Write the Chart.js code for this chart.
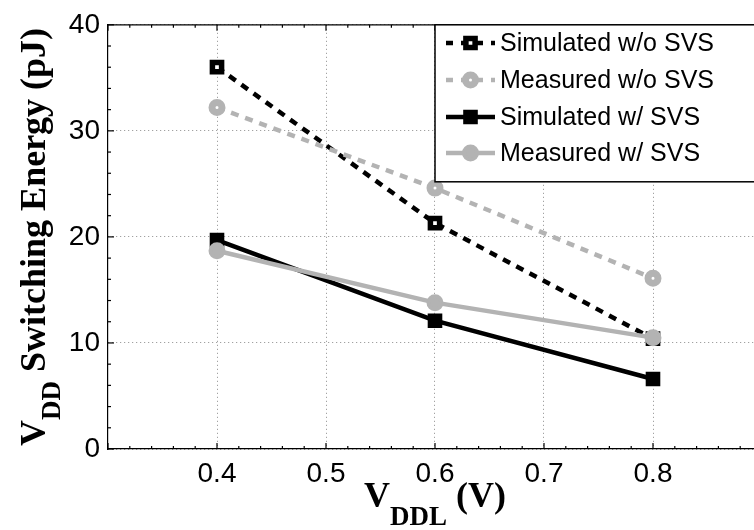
<!DOCTYPE html>
<html><head><meta charset="utf-8">
<script src="https://cdn.jsdelivr.net/npm/chart.js@4.4.1/dist/chart.umd.min.js"></script>
<style>
html,body{margin:0;padding:0;overflow:hidden;background:#fff;width:754px;height:530px}
#wrap{position:absolute;left:0;top:0;width:800px;height:530px}
</style>
</head><body><div id="wrap"><canvas id="c" width="800" height="530"></canvas></div>
<script>
// ---- data ----
const vddl = [0.4, 0.6, 0.8];
const simWo = [36.0, 21.3, 10.4];
const measWo = [32.2, 24.6, 16.1];
const simW = [19.7, 12.1, 6.6];
const measW = [18.7, 13.8, 10.5];
const seriesNames = ['Simulated w/o SVS', 'Measured w/o SVS', 'Simulated w/ SVS', 'Measured w/ SVS'];
const xTicks = [0.4, 0.5, 0.6, 0.7, 0.8];
const yTicks = [0, 10, 20, 30, 40];

const BLACK = '#000000', GRAY = '#b3b3b3';
const pts = ys => vddl.map((x, i) => ({x, y: ys[i]}));

const styles = [
  {color: BLACK, dash: [8, 7], shape: 'rect', r: 6.5, bw: 5.5, fill: '#ffffff'},
  {color: GRAY, dash: [8, 7], shape: 'circle', r: 5, bw: 7, fill: '#ffffff'},
  {color: BLACK, dash: [], shape: 'rect', r: 7.5, bw: 4, fill: BLACK},
  {color: GRAY, dash: [], shape: 'circle', r: 6.5, bw: 4, fill: GRAY}
];
const allData = [simWo, measWo, simW, measW];

const datasets = allData.map((d, i) => ({
  label: seriesNames[i],
  data: pts(d),
  borderColor: styles[i].color,
  borderWidth: 4.5,
  borderDash: styles[i].dash,
  pointStyle: styles[i].shape,
  pointRadius: styles[i].r,
  pointBorderWidth: styles[i].bw,
  pointBackgroundColor: styles[i].fill,
  pointBorderColor: styles[i].color,
  fill: false,
  tension: 0,
  order: 4 - i
}));

function drawMarker(ctx, s, x, y) {
  ctx.save();
  ctx.setLineDash([]);
  ctx.lineWidth = s.bw;
  ctx.strokeStyle = s.color;
  ctx.fillStyle = s.fill;
  ctx.beginPath();
  if (s.shape === 'rect') {
    const h = s.r * Math.SQRT1_2;
    ctx.rect(x - h, y - h, 2 * h, 2 * h);
  } else {
    ctx.arc(x, y, s.r, 0, Math.PI * 2);
  }
  ctx.fill();
  ctx.stroke();
  ctx.restore();
}

const deco = {
  id: 'deco',
  afterDraw(chart) {
    const ctx = chart.ctx, a = chart.chartArea, xs = chart.scales.x, ys = chart.scales.y;
    ctx.save();
    ctx.strokeStyle = '#000';
    ctx.lineWidth = 1.2;
    const line = (x1, y1, x2, y2) => { ctx.beginPath(); ctx.moveTo(x1, y1); ctx.lineTo(x2, y2); ctx.stroke(); };
    line(a.left, a.top, a.right, a.top);
    line(a.right, a.top, a.right, a.bottom);
    for (let k = 0; k <= 20; k++) {
      const v = k * 2;
      const y = ys.getPixelForValue(v);
      const L = (v % 10 === 0) ? 6 : 3;
      line(a.left, y, a.left + L, y);
      line(a.right, y, a.right - L, y);
    }
    for (let k = 0; k <= 30; k++) {
      const v = 0.3 + k * 0.02;
      const x = xs.getPixelForValue(v);
      const L = (k % 5 === 0) ? 6 : 3;
      line(x, a.bottom, x, a.bottom - L);
      line(x, a.top, x, a.top + L);
    }
    // legend box
    const lx = 435, ly = a.top, lw = 400, lh = 157;
    ctx.fillStyle = '#fff';
    ctx.fillRect(lx, ly, lw, lh);
    ctx.lineWidth = 1.5;
    ctx.strokeRect(lx, ly, lw, lh);
    const rowY = [43, 80, 117, 153];
    ctx.font = '25px "Liberation Sans", Arial, sans-serif';
    ctx.textBaseline = 'middle';
    ctx.textAlign = 'left';
    styles.forEach((s, i) => {
      const y = rowY[i];
      ctx.save();
      ctx.strokeStyle = s.color;
      ctx.lineWidth = 4.5;
      ctx.setLineDash(s.dash.length ? [7, 8] : []);
      line(446, y, 495, y);
      ctx.restore();
      drawMarker(ctx, s, 470.5, y);
      ctx.fillStyle = '#000';
      ctx.fillText(seriesNames[i], 500, y + 1);
    });
    // axis titles
    const big = 'bold 36px "Liberation Serif", "Times New Roman", serif';
    const small = 'bold 27px "Liberation Serif", "Times New Roman", serif';
    ctx.fillStyle = '#000';
    ctx.textBaseline = 'alphabetic';
    {
      ctx.font = big; const w1 = ctx.measureText('V').width; const w3 = ctx.measureText(' (V)').width;
      ctx.font = small; const w2 = ctx.measureText('DDL').width;
      const tot = w1 + w2 + w3;
      let x = (a.left + a.right) / 2 - tot / 2;
      const by = 507;
      ctx.font = big; ctx.fillText('V', x, by); x += w1;
      ctx.font = small; ctx.fillText('DDL', x, by + 18); x += w2;
      ctx.font = big; ctx.fillText(' (V)', x, by);
    }
    {
      ctx.save();
      ctx.translate(45, (a.top + a.bottom) / 2);
      ctx.rotate(-Math.PI / 2);
      ctx.font = big; const w1 = ctx.measureText('V').width; const w3 = ctx.measureText(' Switching Energy (pJ)').width;
      ctx.font = small; const w2 = ctx.measureText('DD').width;
      const tot = w1 + w2 + w3;
      let x = -tot / 2;
      ctx.font = big; ctx.fillText('V', x, 0); x += w1;
      ctx.font = small; ctx.fillText('DD', x, 15); x += w2;
      ctx.font = big; ctx.fillText(' Switching Energy (pJ)', x, 0);
      ctx.restore();
    }
    ctx.restore();
  }
};

new Chart(document.getElementById('c'), {
  type: 'line',
  data: {datasets},
  options: {
    responsive: false,
    animation: false,
    devicePixelRatio: 1,
    layout: {padding: {top: 19, right: 38, left: 0, bottom: 0}},
    plugins: {legend: {display: false}, tooltip: {enabled: false}},
    scales: {
      x: {
        type: 'linear', min: 0.3, max: 0.9,
        afterBuildTicks: s => { s.ticks = xTicks.map(v => ({value: v})); },
        afterFit: s => { s.height = 81; },
        ticks: {color: '#000', font: {family: '"Liberation Sans", Arial, sans-serif', size: 28}, padding: 8,
                callback: v => Number(v).toFixed(1), autoSkip: false, maxRotation: 0},
        grid: {color: '#8c8c8c', lineWidth: 1, drawTicks: false},
        border: {display: true, color: '#000', width: 1.2, dash: [1, 3]}
      },
      y: {
        type: 'linear', min: 0, max: 40,
        afterBuildTicks: s => { s.ticks = yTicks.map(v => ({value: v})); },
        afterFit: s => { s.width = 108; },
        ticks: {color: '#000', font: {family: '"Liberation Sans", Arial, sans-serif', size: 28}, padding: 8},
        grid: {color: '#8c8c8c', lineWidth: 1, drawTicks: false},
        border: {display: true, color: '#000', width: 1.2, dash: [1, 3]}
      }
    }
  },
  plugins: [deco]
});
</script>
</body></html>
